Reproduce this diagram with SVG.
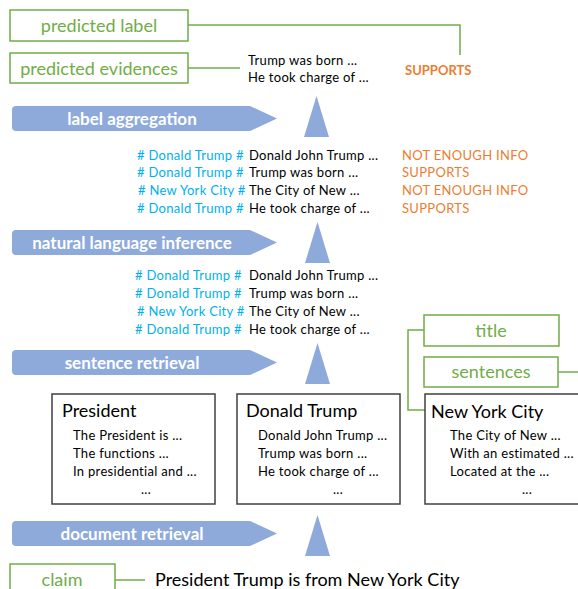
<svg xmlns="http://www.w3.org/2000/svg" width="578" height="589" viewBox="0 0 578 589">
<style>
text{font-family:Lato,"Open Sans","Liberation Sans",sans-serif}
.gbox{fill:#fff;stroke:#70ad47;stroke-width:1.5}
.glab{fill:#70ad47;font-size:18px;text-anchor:middle}
.gline{fill:none;stroke:#70ad47;stroke-width:1.5}
.step{fill:#8eaadb}
.stepT{fill:#fff;font-size:17px;font-weight:bold;text-anchor:middle}
.tri{fill:#8eaadb}
.s{font-size:13px;fill:#000;letter-spacing:0.3px}
.h{font-size:13px;fill:#00b0f0;letter-spacing:0.3px}
.o{font-size:13px;fill:#ed7d31;letter-spacing:0.3px}
.doc{fill:#fff;stroke:#404040;stroke-width:1.5}
.dt{font-size:18px;fill:#000}
</style>
<defs>
<path id="arr" d="M4,0 H238 L265,12.5 L238,25 H4 Q0,25 0,21 V4 Q0,0 4,0 Z"/>
<path id="tri" d="M12.5,0 L25,41 L0,41 Z"/>
</defs>

<g id="connectors">
<path class="gline" d="M188,25 H460 V55"/>
<path class="gline" d="M188,68 H240"/>
<path class="gline" d="M424,330 H408 V410 H425"/>
<path class="gline" d="M558,372 H578"/>
<path class="gline" d="M573,426 H578 M573,480 H578"/>
<path class="gline" d="M115,580 H145"/>
</g>

<g id="predicted-label"><rect class="gbox" x="10" y="10" width="178" height="31"/><text class="glab" x="99" y="32">predicted label</text></g>
<g id="predicted-evidences"><rect class="gbox" x="10" y="53" width="178" height="30"/><text class="glab" x="99" y="75">predicted evidences</text></g>
<g id="final-evidences"><text class="s" x="248" y="65">Trump was born ...</text><text class="s" x="248" y="82">He took charge of ...</text></g>
<g id="final-label"><text x="405" y="75" style="font-size:13px;font-weight:bold;fill:#ed7d31">SUPPORTS</text></g>

<g id="label-aggregation"><use href="#arr" class="step" x="12" y="106"/><text class="stepT" x="132" y="125">label aggregation</text></g>
<g id="tri-1"><use href="#tri" class="tri" x="304" y="96"/></g>

<g id="nli-results">
<text class="h" x="137" y="160"># Donald Trump #</text><text class="s" x="249" y="160">Donald John Trump ...</text><text class="o" x="402" y="160">NOT ENOUGH INFO</text>
<text class="h" x="137" y="177"># Donald Trump #</text><text class="s" x="249" y="177">Trump was born ...</text><text class="o" x="402" y="177">SUPPORTS</text>
<text class="h" x="138" y="195"># New York City #</text><text class="s" x="249" y="195">The City of New ...</text><text class="o" x="402" y="195">NOT ENOUGH INFO</text>
<text class="h" x="137" y="213"># Donald Trump #</text><text class="s" x="249" y="213">He took charge of ...</text><text class="o" x="402" y="213">SUPPORTS</text>
</g>

<g id="natural-language-inference"><use href="#arr" class="step" x="12" y="230"/><text class="stepT" x="132" y="249">natural language inference</text></g>
<g id="tri-2"><use href="#tri" class="tri" x="305" y="222"/></g>

<g id="retrieved-sentences">
<text class="h" x="135" y="280"># Donald Trump #</text><text class="s" x="249" y="280">Donald John Trump ...</text>
<text class="h" x="135" y="298"># Donald Trump #</text><text class="s" x="249" y="298">Trump was born ...</text>
<text class="h" x="137" y="316"># New York City #</text><text class="s" x="249" y="316">The City of New ...</text>
<text class="h" x="135" y="334"># Donald Trump #</text><text class="s" x="249" y="334">He took charge of ...</text>
</g>

<g id="sentence-retrieval"><use href="#arr" class="step" x="12" y="350"/><text class="stepT" x="132" y="369">sentence retrieval</text></g>
<g id="tri-3"><use href="#tri" class="tri" x="305" y="343"/></g>

<g id="title"><rect class="gbox" x="424" y="315" width="135" height="31"/><text class="glab" x="491" y="337">title</text></g>
<g id="sentences"><rect class="gbox" x="424" y="357" width="134" height="30"/><text class="glab" x="491" y="378">sentences</text></g>

<g id="doc-president"><rect class="doc" x="52" y="394" width="163" height="110"/>
<text class="dt" x="62" y="417">President</text>
<text class="s" x="73" y="440">The President is ...</text>
<text class="s" x="73" y="458">The functions ...</text>
<text class="s" x="73" y="476">In presidential and ...</text>
<text class="s" x="141" y="494">...</text></g>

<g id="doc-trump"><rect class="doc" x="237" y="394" width="163" height="110"/>
<text class="dt" x="246" y="417">Donald Trump</text>
<text class="s" x="258" y="440">Donald John Trump ...</text>
<text class="s" x="258" y="458">Trump was born ...</text>
<text class="s" x="258" y="476">He took charge of ...</text>
<text class="s" x="333" y="494">...</text></g>

<g id="doc-nyc"><rect class="doc" x="425" y="394" width="160" height="110"/>
<text class="dt" x="431" y="418">New York City</text>
<text class="s" x="450" y="440">The City of New ...</text>
<text class="s" x="450" y="458">With an estimated ...</text>
<text class="s" x="450" y="476">Located at the ...</text>
<text class="s" x="522" y="494">...</text></g>

<g id="document-retrieval"><use href="#arr" class="step" x="12" y="521"/><text class="stepT" x="132" y="540">document retrieval</text></g>
<g id="tri-4"><use href="#tri" class="tri" x="305" y="515"/></g>

<g id="claim"><rect class="gbox" x="10" y="564" width="105" height="40"/><text class="glab" x="62" y="586">claim</text></g>
<g id="claim-text"><text x="155" y="586" style="font-size:18px;fill:#000">President Trump is from New York City</text></g>
</svg>
